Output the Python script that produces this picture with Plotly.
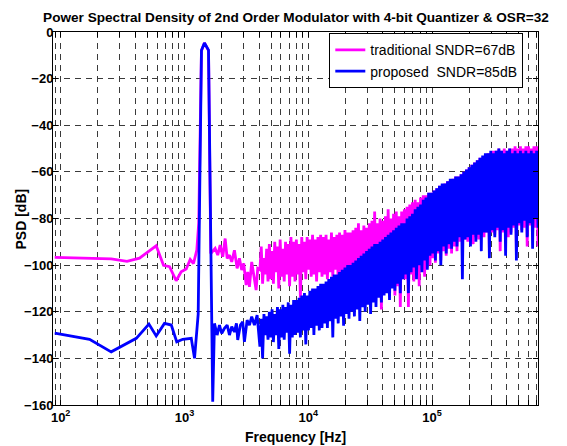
import numpy as np
import plotly.graph_objects as go

# low-frequency part (individual FFT bins)
freq_low_trad = [89.5, 175, 256, 343, 433, 591, 677, 757, 857, 940, 1032,
                 1112, 1182, 1257, 1303, 1371, 1449, 1563, 1630,
                 1768, 1856, 1941, 2037, 2130, 2211, 2307, 2407, 2531, 2661,
                 2777, 2898, 3008, 3146, 3240, 3345, 3490, 3622, 3787, 3902]
psd_low_trad = [-96.7, -97.0, -97.3, -98.4, -97.0, -91.7, -100.1, -100.7,
                -106.7, -102.9, -101.7, -97.6, -99.3, -93.6, -82.0, -8.0,
                -4.7, -8.0, -95.0,
                -92.8, -95.7, -91.4, -96.4, -88.6, -97.1, -95.7, -98.6, -93.6,
                -101.4, -97.1, -102.1, -99.3, -108.6, -102.9, -109.3, -98.6,
                -104.3, -110.7, -101.4]

freq_low_prop = [89.5, 171, 256, 408, 516, 591, 689, 782, 866, 968, 1134,
                 1205, 1290, 1371, 1449, 1563, 1690,
                 1746, 1835, 1916, 1999, 2102, 2211, 2307, 2407, 2531, 2627,
                 2691, 2829, 2953, 3047, 3204, 3345, 3490, 3669, 3859]
psd_low_prop = [-129.2, -131.8, -137.2, -131.4, -125.3, -130.4, -125.0,
                -125.7, -132.9, -131.8, -131.4, -140.0, -121.0, -7.8, -4.7,
                -7.8, -158.6,
                -125.0, -130.0, -125.7, -129.3, -127.1, -125.7, -130.0, -126.4,
                -128.6, -125.0, -132.1, -125.7, -124.3, -132.9, -123.6, -125.7,
                -122.1, -125.7, -121.4]

# high-frequency part: noise band, sampled from 4 kHz up to fs/2
psd_high_trad = [
    -102, -92, -108, -97, -104, -93, -107,
    -91, -106, -94, -108, -90, -103, -92, -110, -89, -105, -93, -107, -90, -104, -91, -109, -88, -105, -90, -107,
    -89, -104, -91, -114, -88, -103, -90, -106, -88, -102, -89, -105, -87, -104, -89, -107, -88, -103, -87, -105,
    -88, -104, -87, -106, -89, -103, -86, -105, -88, -102, -87, -107, -86, -104, -87, -106, -85, -103, -86, -105,
    -86, -110, -85, -112, -84, -108, -82, -115, -85, -111, -83, -109, -84, -113, -82, -110, -81, -114, -77, -111,
    -82, -110, -80, -119, -81, -108, -79, -112, -76, -110, -80, -107, -78, -113, -77, -109, -79, -118, -77, -106,
    -76, -106, -75, -118, -74, -104, -73, -107, -72, -103, -73, -109, -71, -102, -70, -105, -70, -101, -69, -100,
    -69, -97, -68, -99, -67, -95, -66, -98, -66, -94, -65, -96, -64, -93, -64, -95, -63, -92, -62, -94,
    -62, -90, -61, -91, -60, -89, -59, -90, -58, -88, -57, -91, -56, -88, -55, -89, -54, -87, -54, -88,
    -53, -86, -52, -95, -52, -86, -51, -87, -51, -85, -50, -94, -51, -86, -50, -85, -51, -88, -50, -86,
    -50, -84, -49, -94, -50, -83, -49, -85, -50, -84, -49, -92, -49, -83, -50, -86, -49, -84, -49, -92,
]
psd_high_prop = [
    -135, -123, -140, -121, -130, -122, -132,
    -120, -131, -119, -133, -121, -130, -118, -136, -119, -131, -117, -132, -118, -129, -116, -138, -117, -131, -115, -130,
    -115, -129, -114, -131, -113, -128, -112, -134, -113, -128, -111, -127, -110, -130, -110, -126, -109, -128, -108, -127,
    -108, -125, -107, -127, -106, -124, -105, -131, -104, -123, -104, -125, -103, -122, -102, -126, -101, -121, -100, -123,
    -100, -120, -99, -122, -98, -119, -97, -124, -96, -118, -95, -120, -94, -117, -93, -121, -92, -116, -91, -118,
    -91, -114, -90, -116, -89, -113, -88, -112, -87, -115, -86, -110, -85, -111, -84, -108, -83, -112, -82, -106,
    -82, -104, -80, -112, -79, -103, -78, -101, -76, -106, -75, -100, -74, -103, -72, -98, -71, -102, -69, -96,
    -69, -95, -68, -98, -67, -94, -66, -100, -65, -92, -65, -95, -64, -91, -63, -93, -63, -90, -62, -92,
    -62, -88, -61, -106, -60, -89, -59, -88, -58, -92, -57, -87, -56, -90, -55, -87, -54, -94, -53, -86,
    -52, -86, -52, -97, -51, -85, -52, -88, -51, -84, -50, -90, -51, -85, -52, -96, -51, -84, -50, -87,
    -52, -83, -51, -98, -52, -82, -51, -86, -52, -81, -51, -88, -52, -82, -51, -93, -52, -80, -51, -84,
]
freq_high = np.geomspace(4064, 716000, len(psd_high_prop))

FONT = "Liberation Sans, Arial, sans-serif"

fig = go.Figure()
fig.add_trace(go.Scatter(
    x=freq_low_trad + list(freq_high),
    y=psd_low_trad + psd_high_trad,
    mode="lines",
    line={"color": "#ff00ff", "width": 2.8},
    name="traditional SNDR=67dB",
))
fig.add_trace(go.Scatter(
    x=freq_low_prop + list(freq_high),
    y=psd_low_prop + psd_high_prop,
    mode="lines",
    line={"color": "#0000ff", "width": 2.8},
    name="proposed  SNDR=85dB",
))

# MATLAB style log grid: line at every 1..9 x decade
xticks = [90] + [m * 10 ** d for d in range(2, 6) for m in range(1, 10) if m * 10 ** d < 716000]
xtext = ["10<sup>%d</sup>" % round(np.log10(v)) if v in (100, 1000, 10000, 100000) else ""
         for v in xticks]

grid = {"showgrid": True, "gridcolor": "#3a3a3a", "gridwidth": 1, "griddash": "6px,5px"}

fig.update_layout(
    width=567,
    height=446,
    margin={"l": 53, "r": 29, "t": 32, "b": 41},
    paper_bgcolor="white",
    plot_bgcolor="white",
    font={"family": FONT, "size": 13, "color": "black"},
    title={
        "text": "Power Spectral Density of 2nd Order Modulator with 4-bit Quantizer & OSR=32",
        "font": {"size": 13.6, "weight": "bold"},
        "x": 0.522, "xanchor": "center", "y": 0.962, "yanchor": "middle",
    },
    legend={
        "x": 0.9697, "y": 0.9965, "xanchor": "right", "yanchor": "top",
        "bgcolor": "white", "bordercolor": "black", "borderwidth": 1,
        "font": {"size": 14}, "itemwidth": 30, "tracegroupgap": 0,
    },
    showlegend=True,
    annotations=[
        {"text": "Frequency [Hz]", "xref": "paper", "yref": "paper",
         "x": 0.5, "y": -0.086, "xanchor": "center", "yanchor": "middle",
         "showarrow": False, "font": {"size": 14, "weight": "bold"}},
        {"text": "PSD [dB]", "xref": "paper", "yref": "paper", "textangle": -90,
         "x": -0.066, "y": 0.5, "xanchor": "center", "yanchor": "middle",
         "showarrow": False, "font": {"size": 14, "weight": "bold"}},
    ],
)
fig.update_xaxes(
    type="log",
    range=[np.log10(86.7), np.log10(716000)],
    tickmode="array", tickvals=xticks, ticktext=xtext,
    ticks="inside", ticklen=5, tickcolor="black",
    showline=True, linecolor="black", linewidth=1, mirror="ticks",
    tickfont={"size": 13, "weight": "bold"},
    zeroline=False, automargin=False,
    **grid,
)
fig.update_yaxes(
    range=[-160, 0],
    tickvals=list(range(-160, 1, 20)),
    ticks="inside", ticklen=5, tickcolor="black",
    showline=True, linecolor="black", linewidth=1, mirror="ticks",
    tickfont={"size": 13, "weight": "bold"}, ticklabelstandoff=-4,
    zeroline=False, automargin=False,
    **grid,
)

fig.write_html("out.html", config={"displayModeBar": False},
               post_script="document.body.style.margin='0px';")
